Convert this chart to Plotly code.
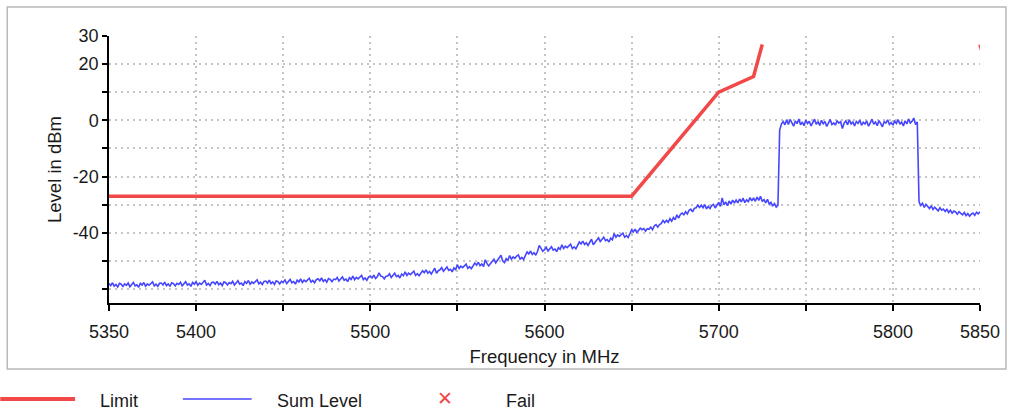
import numpy as np
import plotly.graph_objects as go

# ---------------- data ----------------
freq_start, freq_stop, freq_step = 5350, 5850, 1   # MHz sampling of the measured trace

sum_level = [
    -58.1, -58.8, -57.8, -59.0, -58.4, -59.3, -58.0, -58.3, -59.1, -58.2,   # 5350
    -58.7, -57.9, -59.2, -58.2, -57.7, -58.9, -58.5, -59.4, -58.0, -58.6,   # 5360
    -57.7, -59.0, -58.2, -58.7, -57.9, -57.5, -58.9, -58.3, -59.1, -58.0,   # 5370
    -57.9, -58.6, -57.6, -58.8, -58.2, -59.1, -57.8, -58.1, -58.9, -58.0,   # 5380
    -58.4, -57.6, -58.9, -57.9, -57.4, -58.6, -58.2, -59.1, -57.7, -58.3,   # 5390
    -57.4, -58.7, -57.9, -58.4, -57.6, -56.9, -58.6, -58.0, -58.8, -57.7,   # 5400
    -57.6, -58.3, -57.3, -58.5, -57.9, -58.8, -57.5, -57.8, -58.6, -57.7,   # 5410
    -58.1, -57.3, -58.6, -57.6, -57.1, -58.3, -57.9, -58.8, -57.4, -58.0,   # 5420
    -57.0, -58.3, -57.5, -58.0, -57.2, -56.8, -58.2, -57.6, -58.4, -57.3,   # 5430
    -57.2, -57.9, -56.9, -58.1, -57.5, -58.4, -57.1, -57.4, -58.2, -57.3,   # 5440
    -57.6, -56.8, -58.1, -57.1, -56.6, -57.8, -57.4, -58.3, -56.9, -57.5,   # 5450
    -56.4, -57.7, -56.9, -57.4, -56.6, -56.2, -57.6, -57.0, -57.8, -56.7,   # 5460
    -56.4, -57.1, -56.1, -57.3, -56.7, -57.6, -56.3, -56.6, -57.4, -56.5,   # 5470
    -56.7, -55.9, -57.2, -56.2, -55.7, -56.9, -56.5, -57.4, -56.0, -56.6,   # 5480
    -55.4, -56.7, -55.9, -56.4, -55.6, -55.2, -56.7, -56.1, -56.9, -55.8,   # 5490
    -55.4, -56.1, -55.1, -56.3, -55.7, -54.3, -55.4, -55.6, -56.4, -55.5,   # 5500
    -55.4, -54.6, -55.9, -54.9, -54.4, -55.6, -55.2, -56.1, -54.7, -55.3,   # 5510
    -53.9, -55.2, -54.4, -54.9, -54.1, -53.7, -55.2, -54.6, -55.3, -54.2,   # 5520
    -53.5, -54.2, -53.2, -54.4, -53.8, -54.7, -53.4, -52.6, -54.4, -53.5,   # 5530
    -53.2, -52.4, -53.7, -52.7, -52.2, -53.4, -53.0, -53.9, -52.5, -53.1,   # 5540
    -51.4, -52.7, -51.9, -52.4, -51.6, -51.2, -52.7, -52.1, -52.8, -51.7,   # 5550
    -50.8, -51.5, -50.5, -51.7, -51.1, -52.0, -49.6, -51.0, -51.8, -50.9,   # 5560
    -50.2, -49.4, -50.7, -49.7, -49.2, -48.0, -50.0, -50.6, -49.2, -49.8,   # 5570
    -48.1, -49.4, -48.6, -49.1, -48.3, -47.9, -49.4, -48.8, -49.5, -48.4,   # 5580
    -46.8, -47.5, -46.5, -47.7, -47.1, -48.0, -46.6, -44.5, -45.7, -46.6,   # 5590
    -46.0, -45.2, -46.5, -45.5, -45.0, -46.2, -45.8, -46.7, -45.3, -45.9,   # 5600
    -44.3, -45.6, -44.8, -45.3, -44.5, -44.1, -45.6, -45.0, -45.7, -44.6,   # 5610
    -43.3, -44.0, -43.0, -44.2, -43.6, -44.5, -43.2, -42.3, -44.3, -43.4,   # 5620
    -42.6, -41.8, -43.1, -42.1, -41.6, -42.8, -42.4, -43.3, -41.9, -42.5,   # 5630
    -40.3, -41.6, -40.8, -41.3, -40.5, -40.1, -41.6, -41.0, -41.7, -40.4,   # 5640
    -39.0, -39.7, -38.7, -39.9, -39.3, -38.4, -38.9, -38.5, -39.4, -38.6,   # 5650
    -38.8, -38.0, -38.9, -37.6, -37.1, -38.0, -37.1, -36.8, -35.6, -36.4,   # 5660
    -35.6, -36.3, -35.0, -35.9, -34.6, -35.4, -33.6, -34.8, -33.5, -33.0,   # 5670
    -33.6, -32.5, -33.3, -32.0, -31.6, -32.6, -31.3, -31.1, -30.2, -31.0,   # 5680
    -30.2, -31.1, -30.0, -31.5, -30.6, -31.4, -30.3, -29.9, -31.2, -30.4,   # 5690
    -29.2, -30.6, -27.6, -30.1, -29.0, -30.4, -28.7, -29.8, -28.4, -29.5,   # 5700
    -28.4, -29.4, -28.0, -29.0, -27.7, -29.3, -28.3, -28.9, -27.5, -28.7,   # 5710
    -27.6, -28.8, -27.3, -28.5, -27.0, -28.9, -28.2, -29.4, -28.1, -29.8,   # 5720
    -29.2, -30.5, -29.6, -30.9, -30.2, -3.5, -1.3, -0.4, -1.6, 0.2,         # 5730
    -1.5, 0.3, -0.9, -2.1, -0.2, -1.2, 0.5, -1.6, -0.6, -1.9,               # 5740
    0.1, -1.1, -0.3, -2.0, -0.8, 0.4, -1.4, -0.5, -1.8, 0.0,                # 5750
    -1.2, -0.4, -2.2, -0.7, 0.3, -1.5, -0.9, -1.7, -0.1, -1.0,              # 5760
    -0.5, -2.9, -1.0, -0.2, -1.6, 0.2, -1.3, -0.6, -2.0, -0.4,              # 5770
    -1.1, 0.1, -1.8, -0.7, -1.3, -0.2, -2.1, -0.9, 0.4, -1.4,               # 5780
    -0.6, -1.9, -0.1, -1.2, -2.3, -0.5, -1.0, 0.2, -1.5, -0.8,              # 5790
    -1.7, -0.3, -1.1, 0.3, -1.4, -0.6, -2.0, -0.2, -1.3, 0.5,               # 5800
    -1.0, -0.3, 0.8, -1.5, -0.6, -29.0, -30.3, -29.5, -31.0, -29.9,         # 5810
    -30.8, -31.4, -30.4, -31.7, -30.9, -31.5, -32.2, -31.1, -32.0, -31.6,   # 5820
    -32.4, -31.7, -32.8, -32.0, -33.0, -32.3, -32.6, -33.4, -32.5, -33.1,   # 5830
    -33.6, -32.8, -33.9, -33.2, -34.1, -33.4, -33.0, -33.8, -32.7, -33.3,   # 5840
    -32.5,                                                                  # 5850
]
freq = np.arange(freq_start, freq_stop + 1, freq_step)

limit_freq = [5350, 5650, 5700, 5720, 5725, None, 5850, 5855, 5875, 5925]
limit_level = [-27, -27, 10, 15.6, 27, None, 27, 15.6, 10, -27]

x_tickvals = [5350, 5400, 5450, 5500, 5550, 5600, 5650, 5700, 5750, 5800, 5850]
x_ticktext = ["5350", "5400", "", "5500", "", "5600", "", "5700", "", "5800", "5850"]
y_tickvals = [-60, -50, -40, -30, -20, -10, 0, 10, 20, 30]
y_ticktext = ["", "", "-40", "", "-20", "", "0", "", "20", "30"]

legend_names = ["Limit", "Sum Level", "Fail"]

# ---------------- layout geometry ----------------
W, H = 1012, 412
ML, MR, MT, MB = 109, 30, 36, 109
PW, PH = W - ML - MR, H - MT - MB

def px(x):
    return (x - ML) / PW

def py(y):
    return (H - MB - y) / PH

FONT = "Liberation Sans, Arial, sans-serif"
RED = "#f24848"
BLUE = "#4646ff"
GRID = "#c4c4c4"

fig = go.Figure()
fig.add_trace(go.Scatter(x=limit_freq, y=limit_level, mode="lines", name=legend_names[0],
                         line=dict(color=RED, width=3.5), connectgaps=False, showlegend=False))
fig.add_trace(go.Scatter(x=freq, y=sum_level, mode="lines", name=legend_names[1],
                         line=dict(color=BLUE, width=1.6), showlegend=False))

axis_common = dict(showline=True, linecolor="black", linewidth=1.5,
                   tickcolor="black", tickwidth=1.5, zeroline=False,
                   tickfont=dict(family=FONT, size=18, color="#1a1a1a"))

fig.update_layout(
    width=W, height=H,
    margin=dict(l=ML, r=MR, t=MT, b=MB),
    paper_bgcolor="white", plot_bgcolor="white",
    font=dict(family=FONT, size=18, color="#1a1a1a"),
    xaxis=dict(range=[5350, 5850], tickmode="array", tickvals=x_tickvals, ticktext=x_ticktext,
               ticks="outside", ticklen=6, ticklabelstandoff=6,
               showgrid=True, gridcolor=GRID, gridwidth=1.5, griddash="2px,4px",
               title=dict(text="Frequency in MHz", font=dict(family=FONT, size=18.5), standoff=9),
               **axis_common),
    yaxis=dict(range=[-65, 30], tickmode="array", tickvals=y_tickvals, ticktext=y_ticktext,
               ticks="outside", ticklen=5, showgrid=True, gridcolor=GRID, gridwidth=1.5,
               griddash="2px,4px",
               title=dict(text="Level in dBm", font=dict(family=FONT, size=18.5), standoff=6),
               **axis_common),
    xaxis2=dict(range=[5350, 5850], overlaying="x", anchor="y", side="bottom",
                tickmode="array", tickvals=x_tickvals, ticks="inside", ticklen=7,
                tickcolor="black", tickwidth=1.5, showticklabels=False, showgrid=False,
                showline=False, zeroline=False),
    yaxis2=dict(range=[-65, 30], overlaying="y", anchor="x", side="left",
                tickmode="array", tickvals=y_tickvals, ticks="inside", ticklen=9,
                tickcolor="black", tickwidth=1.5, showticklabels=False, showgrid=False,
                showline=False, zeroline=False),
    showlegend=False,
)

# outer frame
fig.add_shape(type="rect", xref="paper", yref="paper",
              x0=px(7), x1=px(1008), y0=py(369), y1=py(7),
              line=dict(color="#b8b8b8", width=1.5), layer="below")

# legend (drawn below the frame)
LEG_Y = 399
fig.add_shape(type="line", xref="paper", yref="paper", x0=px(0), x1=px(75), y0=py(LEG_Y), y1=py(LEG_Y),
              line=dict(color=RED, width=4))
fig.add_shape(type="line", xref="paper", yref="paper", x0=px(183), x1=px(252), y0=py(LEG_Y), y1=py(LEG_Y),
              line=dict(color=BLUE, width=1.5))
fig.add_annotation(xref="paper", yref="paper", x=px(446), y=py(LEG_Y - 1), text="✕",
                   showarrow=False, font=dict(family="DejaVu Sans", size=19, color=RED),
                   xanchor="center", yanchor="middle")
for name, lx in zip(legend_names, [98, 275, 505]):
    fig.add_annotation(xref="paper", yref="paper", x=px(lx), y=py(LEG_Y + 2), text=name,
                       showarrow=False, font=dict(family=FONT, size=18, color="#1a1a1a"),
                       xanchor="left", yanchor="middle")

fig.write_html("out.html", config={"displayModeBar": False},
               post_script="document.body.style.margin='0px';document.body.style.overflow='hidden';")
